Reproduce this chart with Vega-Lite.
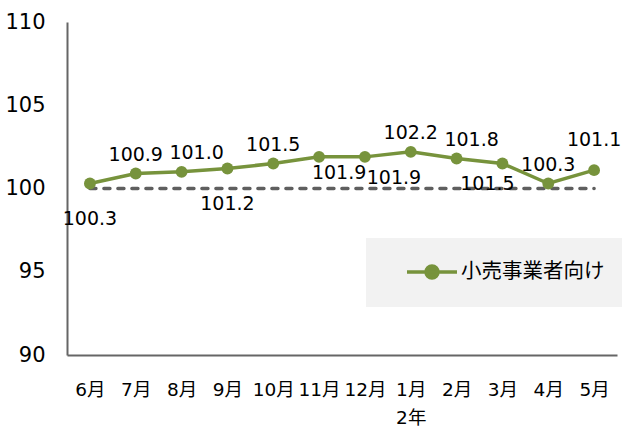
{
  "$schema": "https://vega.github.io/schema/vega-lite/v6.json",
  "autosize": "none",
  "width": 550,
  "height": 333,
  "padding": {"left": 67, "top": 22, "right": 5, "bottom": 75},
  "background": "white",
  "config": {
    "view": {"stroke": null},
    "font": "DejaVu Sans, Noto Sans CJK JP",
    "text": {"font": "DejaVu Sans, Noto Sans CJK JP", "fontSize": 19, "fill": "#000000", "baseline": "middle", "align": "center"}
  },
  "data": {
    "values": [
      {"month": "6月", "value": 100.3, "base": 100, "series": "小売事業者向け"},
      {"month": "7月", "value": 100.9, "base": 100, "series": "小売事業者向け"},
      {"month": "8月", "value": 101.0, "base": 100, "series": "小売事業者向け"},
      {"month": "9月", "value": 101.2, "base": 100, "series": "小売事業者向け"},
      {"month": "10月", "value": 101.5, "base": 100, "series": "小売事業者向け"},
      {"month": "11月", "value": 101.9, "base": 100, "series": "小売事業者向け"},
      {"month": "12月", "value": 101.9, "base": 100, "series": "小売事業者向け"},
      {"month": "1月", "value": 102.2, "base": 100, "series": "小売事業者向け"},
      {"month": "2月", "value": 101.8, "base": 100, "series": "小売事業者向け"},
      {"month": "3月", "value": 101.5, "base": 100, "series": "小売事業者向け"},
      {"month": "4月", "value": 100.3, "base": 100, "series": "小売事業者向け"},
      {"month": "5月", "value": 101.1, "base": 100, "series": "小売事業者向け"}
    ]
  },
  "encoding": {
    "x": {
      "field": "month", "type": "ordinal", "sort": null,
      "scale": {"type": "point", "padding": 0.5},
      "axis": {
        "title": null, "labelAngle": 0, "ticks": false, "grid": false,
        "domainColor": "#666666", "domainWidth": 2,
        "labelFontSize": 18.5, "labelColor": "#000000", "labelPadding": 25,
        "labelLineHeight": 28, "labelFont": "DejaVu Sans, Noto Sans CJK JP",
        "labelExpr": "datum.value == '1月' ? ['1月', '2年'] : datum.value"
      }
    },
    "y": {
      "type": "quantitative",
      "scale": {"domain": [90, 110], "nice": false, "zero": false},
      "axis": {
        "title": null, "values": [90, 95, 100, 105, 110], "ticks": false, "grid": false,
        "domainColor": "#666666", "domainWidth": 2,
        "labelFontSize": 21, "labelColor": "#000000", "labelPadding": 22,
        "labelFont": "DejaVu Sans"
      }
    }
  },
  "layer": [
    {
      "mark": {"type": "line", "stroke": "#5f5f5f", "strokeWidth": 3.5, "strokeDash": [6, 8], "strokeCap": "round"},
      "encoding": {"y": {"field": "base", "type": "quantitative"}}
    },
    {
      "mark": {"type": "line", "strokeWidth": 3.5},
      "encoding": {
        "y": {"field": "value", "type": "quantitative"},
        "color": {
          "field": "series", "type": "nominal",
          "scale": {"range": ["#77933C"]},
          "legend": {
            "title": null, "orient": "none", "legendX": 299, "legendY": 216,
            "fillColor": "#F2F2F2", "padding": 22,
            "labelFontSize": 20.5, "labelColor": "#000000", "labelFont": "Noto Sans CJK JP",
            "labelOffset": 49,
            "symbolType": "M0.7,0H5.7M3.8,0A0.6,0.6 0 1 1 2.6,0A0.6,0.6 0 1 1 3.8,0Z",
            "symbolSize": 400, "symbolStrokeWidth": 3.5,
            "symbolFillColor": "#77933C", "symbolStrokeColor": "#77933C",
            "encode": {"symbols": {"update": {"fill": {"value": "#77933C"}, "stroke": {"value": "#77933C"}, "strokeWidth": {"value": 3.5}, "opacity": {"value": 1}}}}
          }
        }
      }
    },
    {
      "mark": {"type": "point", "filled": true, "size": 140, "opacity": 1},
      "encoding": {
        "y": {"field": "value", "type": "quantitative"},
        "color": {"field": "series", "type": "nominal"}
      }
    },
    {
      "transform": [{"filter": {"field": "month", "oneOf": ["7月", "10月", "1月", "4月"]}}],
      "mark": {"type": "text", "dy": -19},
      "encoding": {"y": {"field": "value", "type": "quantitative"}, "text": {"field": "value", "type": "quantitative", "format": ".1f"}}
    },
    {
      "transform": [{"filter": {"field": "month", "oneOf": ["8月", "2月"]}}],
      "mark": {"type": "text", "dx": 15, "dy": -19},
      "encoding": {"y": {"field": "value", "type": "quantitative"}, "text": {"field": "value", "type": "quantitative", "format": ".1f"}}
    },
    {
      "transform": [{"filter": {"field": "month", "oneOf": ["5月"]}}],
      "mark": {"type": "text", "dy": -30},
      "encoding": {"y": {"field": "value", "type": "quantitative"}, "text": {"field": "value", "type": "quantitative", "format": ".1f"}}
    },
    {
      "transform": [{"filter": {"field": "month", "oneOf": ["6月", "9月"]}}],
      "mark": {"type": "text", "dy": 35},
      "encoding": {"y": {"field": "value", "type": "quantitative"}, "text": {"field": "value", "type": "quantitative", "format": ".1f"}}
    },
    {
      "transform": [{"filter": {"field": "month", "oneOf": ["11月"]}}],
      "mark": {"type": "text", "dx": 20, "dy": 16},
      "encoding": {"y": {"field": "value", "type": "quantitative"}, "text": {"field": "value", "type": "quantitative", "format": ".1f"}}
    },
    {
      "transform": [{"filter": {"field": "month", "oneOf": ["12月"]}}],
      "mark": {"type": "text", "dx": 29, "dy": 21},
      "encoding": {"y": {"field": "value", "type": "quantitative"}, "text": {"field": "value", "type": "quantitative", "format": ".1f"}}
    },
    {
      "transform": [{"filter": {"field": "month", "oneOf": ["3月"]}}],
      "mark": {"type": "text", "dx": -15, "dy": 20},
      "encoding": {"y": {"field": "value", "type": "quantitative"}, "text": {"field": "value", "type": "quantitative", "format": ".1f"}}
    }
  ]
}
